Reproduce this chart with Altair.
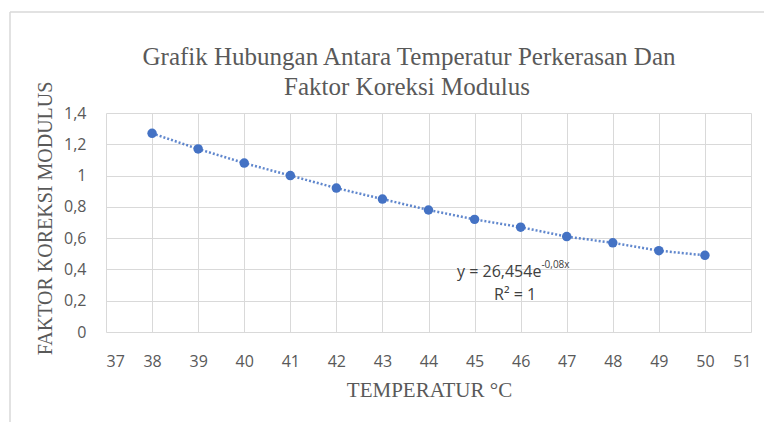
import altair as alt
import pandas as pd

temperatur = [38, 39, 40, 41, 42, 43, 44, 45, 46, 47, 48, 49, 50]
faktor = [1.27, 1.17, 1.08, 1.00, 0.92, 0.85, 0.78, 0.72, 0.67, 0.61, 0.57, 0.52, 0.49]
x_ticks = list(range(37, 52))
y_ticks = [0, 0.2, 0.4, 0.6, 0.8, 1.0, 1.2, 1.4]

title_lines = ["Grafik Hubungan Antara Temperatur Perkerasan Dan", "Faktor Koreksi Modulus"]
eq_main = ["y = 26,454e"]
eq_sup = ["-0,08x"]
eq_r2 = ["R² = 1"]
eq_x = [46.45]
eq_y = [0.351, 0.41, 0.205]
eq_r2_x = [45.88]

df = pd.DataFrame({"t": temperatur, "f": faktor})

BLUE = "#4472C4"
GRAY = "#595959"
SERIF = "Liberation Serif"
SANS = "Open Sans"

x_enc = alt.X(
    "t:Q",
    scale=alt.Scale(domain=[37, 51], nice=False, zero=False),
    axis=alt.Axis(
        values=x_ticks,
        title="TEMPERATUR °C",
        titleX=323,
        titleY=58,
        titleAlign="center",
        titleBaseline="middle",
    ),
)
y_enc = alt.Y(
    "f:Q",
    scale=alt.Scale(domain=[0, 1.4], nice=False),
    axis=alt.Axis(
        values=y_ticks,
        labelExpr="replace(format(datum.value, '.1~f'), '.', ',')",
        labelOverlap=False,
        title="FAKTOR KOREKSI MODULUS",
        titleAngle=270,
        titleX=-61,
        titleY=105,
        titleAlign="center",
        titleBaseline="middle",
    ),
)

line = alt.Chart(df).mark_line(
    color=BLUE, strokeWidth=2.5, strokeDash=[2, 2], opacity=0.85
).encode(x=x_enc, y=y_enc)

points = alt.Chart(df).mark_circle(color=BLUE, size=90, opacity=1).encode(
    x=x_enc, y=y_enc
)

ann_main = alt.Chart(pd.DataFrame({"t": eq_x, "f": [eq_y[0]], "s": eq_main})).mark_text(
    font=SANS, fontSize=16, color="#404040", align="right", baseline="alphabetic"
).encode(x=x_enc, y=y_enc, text="s:N")

ann_sup = alt.Chart(pd.DataFrame({"t": eq_x, "f": [eq_y[1]], "s": eq_sup})).mark_text(
    font=SANS, fontSize=10, color="#404040", align="left", baseline="alphabetic"
).encode(x=x_enc, y=y_enc, text="s:N")

ann_r2 = alt.Chart(pd.DataFrame({"t": eq_r2_x, "f": [eq_y[2]], "s": eq_r2})).mark_text(
    font=SANS, fontSize=16, color="#404040", align="center", baseline="alphabetic"
).encode(x=x_enc, y=y_enc, text="s:N")

title1 = alt.Chart(pd.DataFrame({"s": [title_lines[0]]})).mark_text(
    font=SERIF, fontSize=25, color=GRAY, align="center", baseline="middle"
).encode(text="s:N", x=alt.value(303), y=alt.value(-56))
title2 = alt.Chart(pd.DataFrame({"s": [title_lines[1]]})).mark_text(
    font=SERIF, fontSize=25, color=GRAY, align="center", baseline="middle"
).encode(text="s:N", x=alt.value(301), y=alt.value(-26))

border_top = alt.Chart(pd.DataFrame({"a": [0]})).mark_rule(
    color="#d9d9d9", strokeWidth=1.5
).encode(x=alt.value(-96), x2=alt.value(670), y=alt.value(-101))
border_left = alt.Chart(pd.DataFrame({"a": [0]})).mark_rule(
    color="#d9d9d9", strokeWidth=1.5
).encode(x=alt.value(-96), y=alt.value(-101), y2=alt.value(320))

chart = (
    alt.layer(border_top, border_left, title1, title2, line, points, ann_main, ann_sup, ann_r2)
    .properties(
        width=645,
        height=219,
        autosize=alt.AutoSizeParams(type="none"),
        padding={"left": 98, "top": 105, "right": 13, "bottom": 90},
    )
    .configure_view(stroke=None)
    .configure_axis(
        grid=True,
        gridColor="#d9d9d9",
        gridWidth=1,
        domain=False,
        ticks=False,
        labelFont=SANS,
        labelFontSize=16,
        labelColor=GRAY,
        titleFont=SERIF,
        titleFontSize=20,
        titleFontWeight="normal",
        titleColor=GRAY,
    )
    .configure_axisX(labelPadding=21, titleFontSize=21)
    .configure_axisY(labelPadding=20)
)

chart.save("out.html", embed_options={"renderer": "svg", "actions": False})
